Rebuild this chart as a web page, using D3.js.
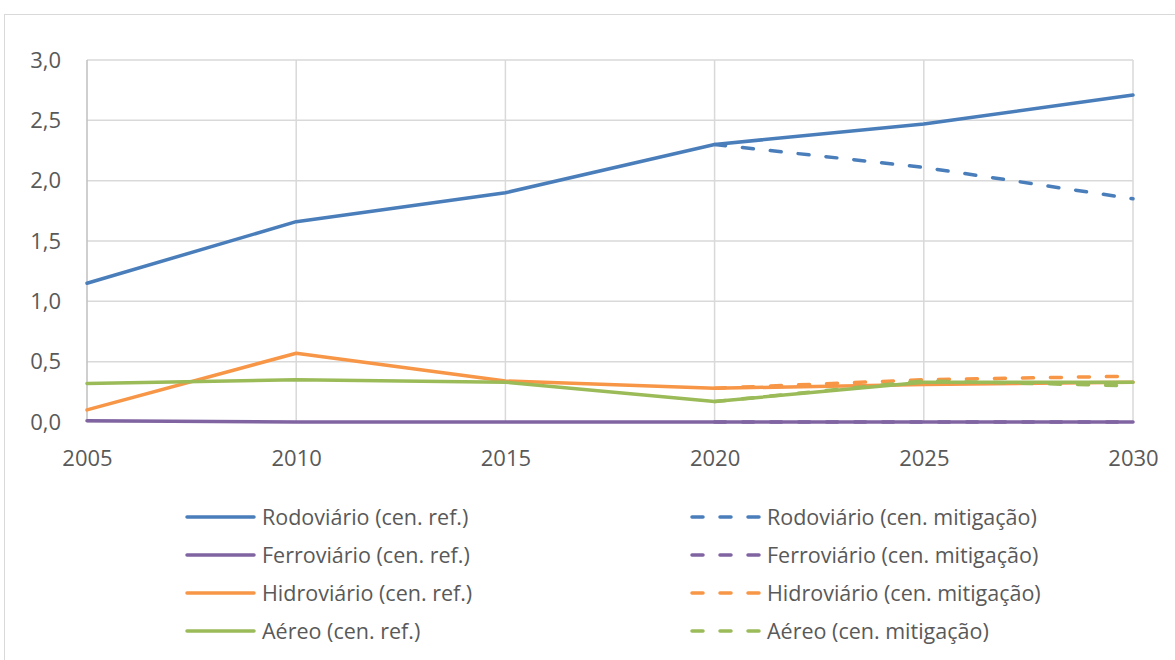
<!DOCTYPE html>
<html><head><meta charset="utf-8">
<script src="https://cdn.jsdelivr.net/npm/d3@7"></script>
<style>body{margin:0;background:#fff}svg{display:block}</style>
</head><body>
<svg id="c" width="1175" height="660"></svg>
<script>
const years = [2005, 2010, 2015, 2020, 2025, 2030];
const yTicks = [0, 0.5, 1.0, 1.5, 2.0, 2.5, 3.0];
const mitYears = [2020, 2025, 2030];

const rodoRef = [1.15, 1.66, 1.90, 2.30, 2.47, 2.71];
const rodoMit = [2.30, 2.11, 1.85];
const ferroRef = [0.01, 0.00, 0.00, 0.00, 0.00, 0.00];
const ferroMit = [0.00, 0.00, 0.00];
const hidroRef = [0.10, 0.57, 0.34, 0.28, 0.31, 0.33];
const hidroMit = [0.28, 0.35, 0.38];
const aereoRef = [0.32, 0.35, 0.33, 0.17, 0.33, 0.33];
const aereoMit = [0.17, 0.34, 0.30];

const names = ["Rodoviário", "Ferroviário", "Hidroviário", "Aéreo"];
const colors = ["#4A7EBB", "#8064A2", "#F79646", "#9BBB59"];
const refData = [rodoRef, ferroRef, hidroRef, aereoRef];
const mitData = [rodoMit, ferroMit, hidroMit, aereoMit];

const svg = d3.select("#c");
const font = "'Open Sans', 'Noto Sans', sans-serif";
const textColor = "#595959";

svg.append("rect").attr("x", 4.5).attr("y", 14.5).attr("width", 1300).attr("height", 800)
  .attr("fill", "#fff").attr("stroke", "#d9d9d9").attr("stroke-width", 1);

const x = d3.scaleLinear().domain([2005, 2030]).range([87, 1133]);
const y = d3.scaleLinear().domain([0, 3]).range([422, 60]);

// gridlines
const g = svg.append("g");
g.selectAll(".hg").data(yTicks).join("line")
  .attr("x1", x(2005)).attr("x2", x(2030)).attr("y1", d => y(d)).attr("y2", d => y(d))
  .attr("stroke", "#d9d9d9").attr("stroke-width", 1.5);
g.selectAll(".vg").data(years).join("line")
  .attr("x1", d => x(d)).attr("x2", d => x(d)).attr("y1", y(3)).attr("y2", y(0))
  .attr("stroke", d => d === 2005 ? "#bfbfbf" : "#d9d9d9").attr("stroke-width", 1.5);

// axes labels
const yAxis = d3.axisLeft(y).tickValues(yTicks).tickSize(0).tickPadding(26)
  .tickFormat(d => d3.format(".1f")(d).replace(".", ","));
svg.append("g").attr("transform", `translate(${x(2005)},0)`).call(yAxis)
  .call(s => s.select(".domain").remove())
  .selectAll("text").attr("font-family", font).attr("font-size", 22).attr("fill", textColor);
const xAxis = d3.axisBottom(x).tickValues(years).tickSize(0).tickPadding(28).tickFormat(d3.format("d"));
svg.append("g").attr("transform", `translate(0,${y(0)})`).call(xAxis)
  .call(s => s.select(".domain").remove())
  .selectAll("text").attr("font-family", font).attr("font-size", 22).attr("fill", textColor);

const line = d3.line().x(d => x(d[0])).y(d => y(d[1]));
const dash = "11,17";
for (let i = 0; i < 4; i++) {
  svg.append("path").datum(years.map((yr, j) => [yr, refData[i][j]]))
    .attr("d", line).attr("fill", "none").attr("stroke", colors[i])
    .attr("stroke-width", 3.5).attr("stroke-linejoin", "round").attr("stroke-linecap", "round");
  svg.append("path").datum(mitYears.map((yr, j) => [yr, mitData[i][j]]))
    .attr("d", line).attr("fill", "none").attr("stroke", colors[i])
    .attr("stroke-width", 3.5).attr("stroke-dasharray", dash)
    .attr("stroke-linejoin", "round").attr("stroke-linecap", "round");
}

// legend
const legY = [517, 555, 593, 631];
for (let i = 0; i < 4; i++) {
  svg.append("line").attr("x1", 187).attr("x2", 254).attr("y1", legY[i]).attr("y2", legY[i])
    .attr("stroke", colors[i]).attr("stroke-width", 3.5).attr("stroke-linecap", "round");
  svg.append("text").attr("x", 262).attr("y", legY[i]).attr("dy", "0.35em")
    .attr("font-family", font).attr("font-size", 21.5).attr("fill", textColor)
    .text(names[i] + " (cen. ref.)");
  svg.append("line").attr("x1", 692).attr("x2", 762).attr("y1", legY[i]).attr("y2", legY[i])
    .attr("stroke", colors[i]).attr("stroke-width", 3.5).attr("stroke-dasharray", dash)
    .attr("stroke-linecap", "round");
  svg.append("text").attr("x", 767).attr("y", legY[i]).attr("dy", "0.35em")
    .attr("font-family", font).attr("font-size", 21.5).attr("fill", textColor)
    .text(names[i] + " (cen. mitigação)");
}
</script>
</body></html>
